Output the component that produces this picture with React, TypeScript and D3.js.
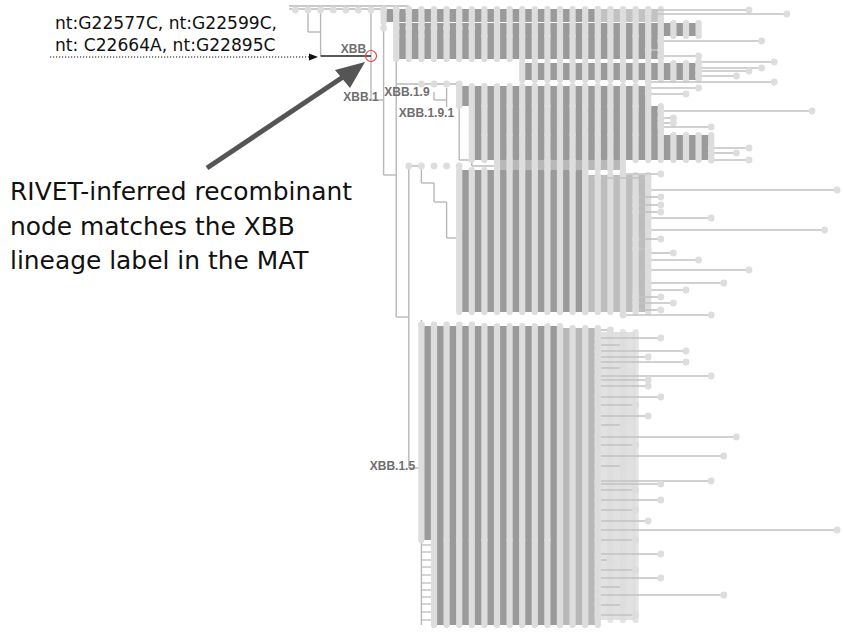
import React from "react";
import * as d3 from "d3";

const W = 843;
const H = 632;

// Tree columns: depth (node level) along x, row position along y.
// Dense clade bands: [yTop, yBottom, depthStart, depthEnd, density]
const bands: [number, number, number, number, number][] = [
  [9, 22, 1, 18, 1],
  [9, 22, 18, 23, 0.6],
  [23, 36, 2, 26, 1],
  [36, 59, 2, 23, 1],
  [63, 80, 12, 26, 1],
  [86, 106, 7, 22, 1],
  [106, 135, 8, 23, 1],
  [135, 160, 8, 27, 1],
  [160, 170, 10, 20, 0.7],
  [170, 312, 7, 17, 1],
  [175, 312, 17, 22, 0.65],
  [326, 540, 4, 15, 1],
  [540, 625, 5, 15, 1],
  [328, 625, 15, 18, 0.7],
  [332, 620, 18, 21, 0.3],
];

// Sparse tip branches: [row, depthStart, depthEnd]
const tips: [number, number, number][] = [
  [10, 22, 30], [14, 22, 33], [41, 23, 31], [50, 22, 23], [56, 23, 26],
  [62, 26, 32], [68, 26, 31], [71, 26, 30], [76, 26, 29], [82, 22, 32],
  [88, 22, 26], [94, 22, 25], [111, 23, 35], [118, 23, 24], [123, 23, 24],
  [127, 23, 27], [148, 27, 30], [153, 27, 29], [160, 27, 30], [174, 20, 23],
  [178, 18, 22],
  [190, 22, 37], [197, 21, 23], [205, 21, 23], [212, 21, 23], [218, 22, 27],
  [230, 22, 36], [239, 21, 23], [249, 21, 22], [253, 22, 24], [260, 22, 26],
  [270, 22, 30], [283, 22, 28], [290, 22, 25], [297, 21, 23], [303, 21, 24],
  [310, 21, 23], [315, 20, 27],
  [330, 18, 19], [338, 18, 23], [345, 18, 20], [351, 18, 25], [357, 18, 22],
  [362, 18, 25], [368, 18, 20], [376, 18, 27], [380, 18, 22], [386, 18, 22],
  [397, 18, 23], [405, 18, 21], [416, 18, 22], [425, 18, 20], [437, 18, 29],
  [445, 18, 21], [456, 18, 28], [466, 18, 20], [481, 18, 27], [484, 18, 23],
  [490, 18, 21], [500, 18, 23], [510, 18, 21], [521, 18, 22], [530, 18, 37],
  [540, 18, 21], [554, 18, 23], [560, 18, 19], [570, 18, 21], [578, 18, 23],
  [587, 18, 20], [595, 18, 28], [605, 18, 20], [615, 18, 21],
];

// Internal connector segments: [depth1, row1, depth2, row2]
const skeleton: [number, number, number, number][] = [
  [-6.5, 6, 3, 6], [-6.5, 9, 1, 9],
  [-5, 10, -5, 32], [-5, 32, -4, 32], [-4, 10, -4, 56],
  [0, 10, 0, 100], [0, 100, 1, 100],
  [1, 28, 1, 175], [1, 175, 2, 175],
  [2, 28, 2, 317], [2, 317, 3, 317],
  [3, 166, 3, 468], [3, 468, 4, 468], [4, 320, 4, 625],
  [3, 166, 4, 166], [4, 166, 4, 183], [4, 183, 5, 183], [5, 183, 5, 202],
  [5, 202, 6, 202], [6, 202, 6, 238], [6, 238, 7, 238], [7, 170, 7, 312],
  [2, 84, 7, 84], [5, 92, 5, 100], [5, 100, 6, 100], [6, 88, 6, 107],
  [7, 86, 7, 160], [7, 160, 8, 160], [8, 150, 8, 166], [8, 166, 10, 166],
];

// Short stubs at the base of XBB.1.5: [row, depthStart, depthEnd]
const stubs: [number, number, number][] = [
  [545, 4, 6], [552, 4, 5.5], [560, 4, 6], [567, 4, 5.5], [575, 4, 6],
  [583, 4, 5.5], [590, 4, 6], [597, 4, 5.5], [604, 4, 6], [612, 4, 5.5], [620, 4, 6],
];

// Rows of node dots: [row, depthStart, depthEnd]
const dotRows: [number, number, number][] = [
  [10, -6, 3], [28, 1, 8], [84, 4, 7], [166, 3, 7], [325, 4, 8],
];

// Recombinant branch (highlighted) [depth1, row, depth2]
const recombBranch: [number, number, number] = [-4, 56, 0];

// Lineage labels: [text, depth, row]
const lineageLabels: [string, number, number][] = [
  ["XBB", -2.4, 53],
  ["XBB.1", -2.2, 101],
  ["XBB.1.9", 1.05, 96],
  ["XBB.1.9.1", 2.2, 117],
  ["XBB.1.5", -0.1, 470],
];

const mutationLines = ["nt:G22577C, nt:G22599C,", "nt: C22664A, nt:G22895C"];
const calloutLines = ["RIVET-inferred recombinant", "node matches the XBB", "lineage label in the MAT"];

export default function App() {
  const x = d3.scaleLinear().domain([0, 37]).range([371, 837.2]);
  const y = d3.scaleLinear().domain([0, 632]).range([0, 632]);
  const dark = "#9a9a9a";
  const light = "#dddddd";
  const lineC = "#c2c2c2";
  const r = 3.4;

  const bandEls: React.ReactNode[] = [];
  bands.forEach(([y0, y1, d0, d1, den], i) => {
    bandEls.push(
      <rect key={"bd" + i} x={x(d0)} y={y(y0)} width={x(d1) - x(d0)} height={y(y1) - y(y0)} fill={dark} opacity={den} />
    );
  });
  bands.forEach(([y0, y1, d0, d1, den], i) => {
    for (let c = Math.ceil(d0); c <= Math.floor(d1); c++) {
      bandEls.push(
        <rect key={"bl" + i + "_" + c} x={x(c) - 3.1} y={y(y0) - 3} width={6.2} height={y(y1) - y(y0) + 6} rx={3.1} fill={light} opacity={den < 0.5 ? 0.8 : 1} />
      );
    }
  });

  return (
    <svg width={W} height={H} style={{ position: "absolute", left: 0, top: 0, background: "#fff" }}>
      <rect width={W} height={H} fill="#fff" />
      {skeleton.map(([a, b, c, d], i) => (
        <line key={"s" + i} x1={x(a)} y1={y(b)} x2={x(c)} y2={y(d)} stroke="#b8b8b8" strokeWidth={1.4} />
      ))}
      {stubs.map(([row, a, b], i) => (
        <line key={"st" + i} x1={x(a)} y1={y(row)} x2={x(b)} y2={y(row)} stroke="#b8b8b8" strokeWidth={1.2} />
      ))}
      {bandEls}
      {tips.map(([row, a, b], i) => (
        <g key={"t" + i}>
          <line x1={x(a)} y1={y(row)} x2={x(b)} y2={y(row)} stroke={lineC} strokeWidth={1.6} />
          <circle cx={x(b)} cy={y(row)} r={r} fill={light} />
          <circle cx={x(a)} cy={y(row)} r={r} fill={light} />
        </g>
      ))}
      {dotRows.map(([row, a, b], i) =>
        d3.range(a, b + 1).map((c) => <circle key={"dr" + i + "_" + c} cx={x(c)} cy={y(row)} r={r} fill={light} />)
      )}
      <line x1={x(recombBranch[0])} y1={y(recombBranch[1])} x2={x(recombBranch[2])} y2={y(recombBranch[1])} stroke="#222" strokeWidth={1.4} />
      {lineageLabels.map(([t, dd, row], i) => (
        <text key={"lb" + i} x={x(dd)} y={y(row)} fontFamily="'Liberation Sans', Arial, sans-serif" fontWeight="bold" fontSize={12} fill="#6f6f6f">{t}</text>
      ))}
      <circle cx={x(0)} cy={y(56)} r={5.5} fill="none" stroke="#e5463c" strokeWidth={1.2} />
      {mutationLines.map((t, i) => (
        <text key={"m" + i} x={55} y={29 + i * 22} fontFamily="'DejaVu Sans', Verdana, sans-serif" fontSize={17.1} fill="#111">{t}</text>
      ))}
      <line x1={50} y1={57} x2={310} y2={57} stroke="#111" strokeWidth={1} strokeDasharray="1.2,1.8" />
      <path d="M309,53.5 L318,57 L309,60.5 Z" fill="#111" />
      <line x1={207} y1={168} x2={346} y2={75} stroke="#555" strokeWidth={5} />
      <path d="M365,62 L335,70 L350,88 Z" fill="#555" />
      {calloutLines.map((t, i) => (
        <text key={"c" + i} x={10} y={200 + i * 34.5} fontFamily="'DejaVu Sans', Verdana, sans-serif" fontSize={24.9} fill="#111">{t}</text>
      ))}
    </svg>
  );
}
